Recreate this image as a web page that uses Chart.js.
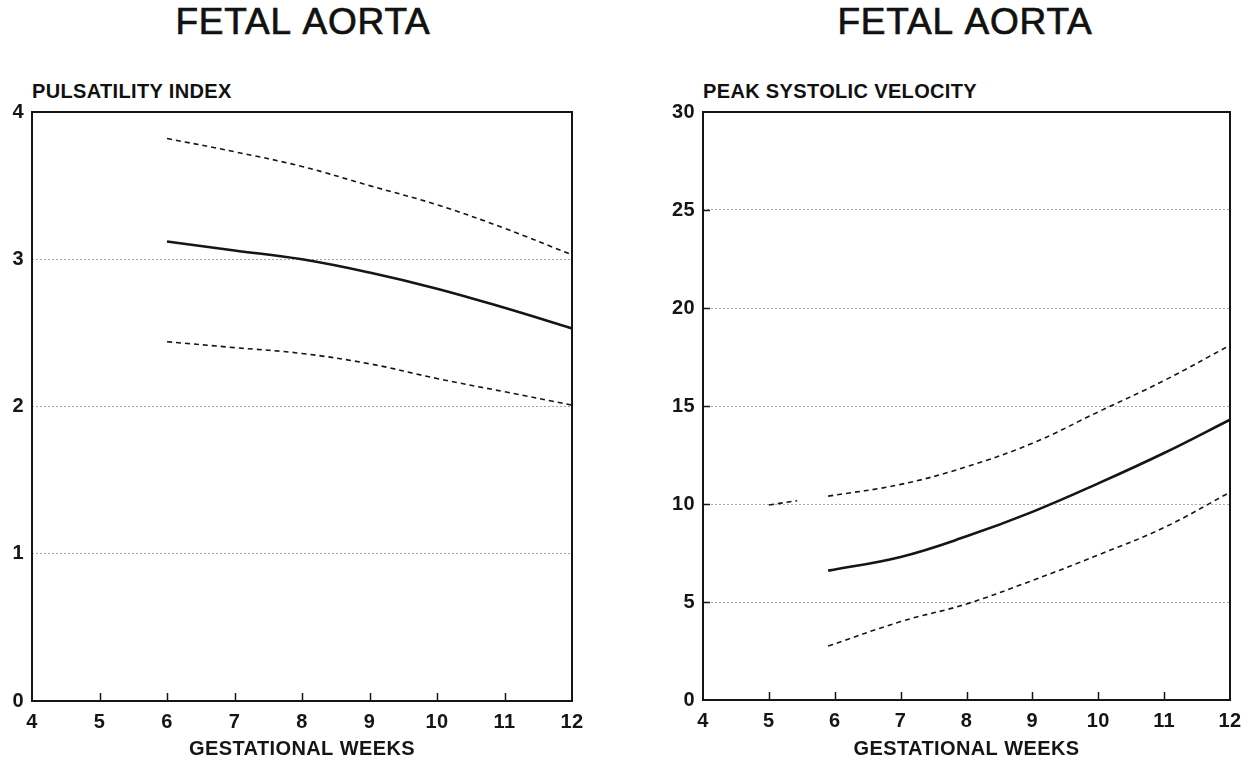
<!DOCTYPE html>
<html>
<head>
<meta charset="utf-8">
<script src="https://cdn.jsdelivr.net/npm/chart.js@4.4.1/dist/chart.umd.min.js"></script>
<style>
  html, body { margin: 0; padding: 0; background: #fff; }
  body { width: 1253px; height: 769px; position: relative; overflow: hidden; font-family: "Liberation Sans", Arial, sans-serif; color: #111; }
  .title { position: absolute; top: 2px; font-size: 37px; font-weight: 400; -webkit-text-stroke: 0.7px #111; letter-spacing: 0.8px; word-spacing: 3px; text-align: center; width: 400px; line-height: 40px; }
  .ylab { position: absolute; top: 79px; font-size: 20px; font-weight: 700; letter-spacing: 0.35px; line-height: 24px; white-space: nowrap; }
  canvas { position: absolute; top: 0; }
</style>
</head>
<body>
<div class="title" style="left:103px;">FETAL AORTA</div>
<div class="title" style="left:765px;">FETAL AORTA</div>
<div class="ylab" style="left:32px;">PULSATILITY INDEX</div>
<div class="ylab" style="left:703px;">PEAK SYSTOLIC VELOCITY</div>
<canvas id="c1" width="626" height="769" style="left:0px;width:626px;height:769px;"></canvas>
<canvas id="c2" width="627" height="769" style="left:626px;width:627px;height:769px;"></canvas>
<script>
// ---- Data ----
const xTicksWeeks = [4, 5, 6, 7, 8, 9, 10, 11, 12];

// Left: Pulsatility index
const piWeeks = [6, 7, 8, 9, 10, 11, 12];
const piMean  = [3.12, 3.06, 3.00, 2.91, 2.80, 2.67, 2.53];
const piUpper = [3.82, 3.73, 3.63, 3.50, 3.37, 3.21, 3.03];
const piLower = [2.44, 2.40, 2.36, 2.29, 2.19, 2.10, 2.01];
const piTicks = [0, 1, 2, 3, 4];

// Right: Peak systolic velocity
const psvWeeks = [5.9, 7, 8, 9, 10, 11, 12];
const psvMean  = [6.6, 7.3, 8.35, 9.6, 11.05, 12.6, 14.3];
const psvUpper = [10.4, 11.0, 11.9, 13.1, 14.7, 16.3, 18.1];
const psvLower = [2.75, 4.0, 4.9, 6.1, 7.4, 8.8, 10.6];
const psvFragWeeks = [5.0, 5.43];
const psvFrag      = [9.95, 10.17];
const psvTicks = [0, 5, 10, 15, 20, 25, 30];

const toPts = (xs, ys) => xs.map((x, i) => ({ x: x, y: ys[i] }));

const INK = '#151515';
const FONT = { family: '"Liberation Sans", Arial, sans-serif', size: 20, weight: 'bold' };

const framePlugin = {
  id: 'frame',
  beforeDraw(chart) { chart.ctx.letterSpacing = '0.4px'; },
  afterDatasetsDraw(chart, args, opts) {
    const { ctx, chartArea: a, scales } = chart;
    ctx.save();
    ctx.letterSpacing = '0px';
    ctx.strokeStyle = INK;
    ctx.lineWidth = 2;
    ctx.strokeRect(a.left, a.top, a.right - a.left, a.bottom - a.top);
    ctx.lineWidth = 1.5;
    // inward x ticks
    const xs = scales.x;
    xs.ticks.forEach(t => {
      if (t.value <= xs.min || t.value >= xs.max) return;
      const px = Math.round(xs.getPixelForValue(t.value)) + 0.5;
      ctx.beginPath(); ctx.moveTo(px, a.bottom); ctx.lineTo(px, a.bottom - 8); ctx.stroke();
    });
    // inward y ticks (left side)
    if (opts.yTicks) {
      const ys = scales.y;
      ys.ticks.forEach(t => {
        if (t.value <= ys.min || t.value >= ys.max) return;
        const py = Math.round(ys.getPixelForValue(t.value)) + 0.5;
        ctx.beginPath(); ctx.moveTo(a.left, py); ctx.lineTo(a.left + 7, py); ctx.stroke();
      });
    }
    ctx.restore();
  }
};

function lineDs(data, dashed) {
  return {
    data: data,
    borderColor: INK,
    borderWidth: dashed ? 1.6 : 2.6,
    borderDash: dashed ? [5, 4] : [],
    pointRadius: 0,
    fill: false,
    tension: 0.4
  };
}

function makeChart(id, datasets, yMin, yMax, yStep, yAxisWidth, rightPad, bottomY, yTicksInward) {
  return new Chart(document.getElementById(id), {
    type: 'line',
    data: { datasets: datasets },
    plugins: [framePlugin],
    options: {
      responsive: false,
      animation: false,
      devicePixelRatio: 1,
      layout: { padding: { top: 112, right: rightPad, left: 0, bottom: 0 } },
      plugins: {
        legend: { display: false },
        tooltip: { enabled: false },
        frame: { yTicks: yTicksInward }
      },
      scales: {
        x: {
          type: 'linear',
          min: 4, max: 12,
          afterBuildTicks: s => { s.ticks = xTicksWeeks.map(v => ({ value: v })); },
          afterFit: s => { s.height = 769 - bottomY; },
          grid: { display: false, drawTicks: false },
          border: { display: false },
          ticks: { color: INK, font: FONT, padding: 9, maxRotation: 0, autoSkip: false },
          title: { display: true, text: 'GESTATIONAL WEEKS', color: INK, font: FONT, padding: { top: 4, bottom: 8 } }
        },
        y: {
          type: 'linear',
          min: yMin, max: yMax,
          ticks: { stepSize: yStep, color: INK, font: FONT, padding: 8 },
          afterFit: s => { s.width = yAxisWidth; },
          grid: {
            drawTicks: false,
            lineWidth: 1,
            color: ctx => (ctx.tick && (ctx.tick.value === yMin || ctx.tick.value === yMax)) ? 'rgba(0,0,0,0)' : 'rgba(0,0,0,0.35)'
          },
          border: { display: false, dash: [2, 2] }
        }
      }
    }
  });
}

makeChart('c1', [
  lineDs(toPts(piWeeks, piUpper), true),
  lineDs(toPts(piWeeks, piMean), false),
  lineDs(toPts(piWeeks, piLower), true)
], piTicks[0], piTicks[piTicks.length - 1], 1, 32, 54, 701, false);

makeChart('c2', [
  lineDs(toPts(psvFragWeeks, psvFrag), true),
  lineDs(toPts(psvWeeks, psvUpper), true),
  lineDs(toPts(psvWeeks, psvMean), false),
  lineDs(toPts(psvWeeks, psvLower), true)
], psvTicks[0], psvTicks[psvTicks.length - 1], 5, 77, 23, 700, true);
</script>
</body>
</html>
